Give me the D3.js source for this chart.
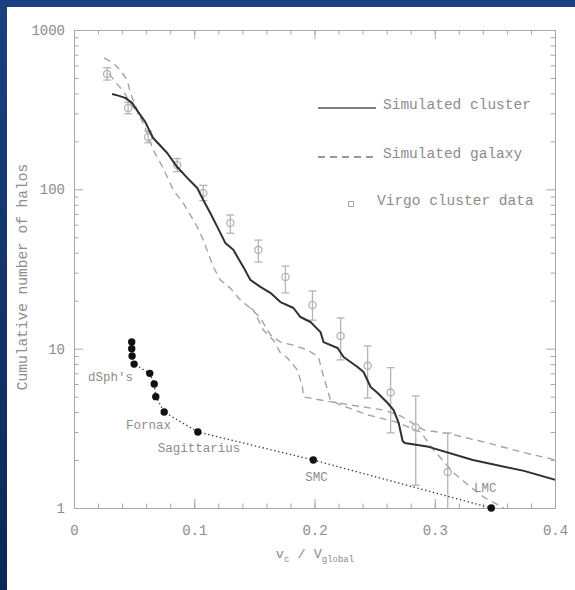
<!DOCTYPE html>
<html lang="en">
<head>
    <meta charset="UTF-8">
    <title>Cumulative number of halos</title>
    <script src="https://d3js.org/d3.v7.min.js"></script>
    <style>
        html, body { margin: 0; padding: 0; background: #123270; }
        text { font-family: "Liberation Mono", "DejaVu Sans Mono", monospace; fill: #8c8c8c; }
    </style>
</head>
<body>
    <svg id="chart"></svg>

    <script>
        // v_c / V_global against cumulative count
        const cluster = [
            [0.0317, 397], [0.0375, 386], [0.0425, 375], [0.0483, 349], [0.0533, 306],
            [0.0592, 265], [0.0633, 229], [0.0658, 210], [0.0775, 169], [0.0858, 138],
            [0.0942, 118], [0.1025, 102], [0.1075, 85.8], [0.1133, 71.1], [0.1192, 58.1],
            [0.1258, 46.1], [0.1325, 41.7], [0.1408, 32.6], [0.1467, 27.0], [0.155, 24.4],
            [0.1633, 22.4], [0.1717, 19.6], [0.1825, 18.0], [0.1883, 15.8], [0.1967, 14.7],
            [0.205, 12.7], [0.2075, 11.0], [0.2192, 10.1], [0.2242, 8.87], [0.2358, 7.67],
            [0.2408, 7.14], [0.2467, 5.75], [0.2525, 5.27], [0.2608, 4.56], [0.2658, 4.12],
            [0.27, 3.42], [0.2733, 2.63], [0.275, 2.56], [0.295, 2.42], [0.3317, 2.0],
            [0.3742, 1.71], [0.4008, 1.5]
        ];

        const galaxyA = [
            [0.025, 668], [0.0325, 621], [0.0383, 562], [0.0442, 486], [0.0467, 408],
            [0.0492, 364], [0.0533, 306], [0.0592, 243], [0.0658, 177], [0.0717, 147],
            [0.0775, 120], [0.0825, 99], [0.0908, 82.2], [0.0967, 69.1], [0.1025, 58.1],
            [0.1075, 48.1], [0.1158, 32.6], [0.1217, 27.0], [0.13, 24.0], [0.1383, 20.2],
            [0.1467, 18.0], [0.155, 15.6], [0.1633, 12.2], [0.1717, 11.0], [0.1825, 10.5],
            [0.1942, 9.82], [0.2033, 8.87], [0.2067, 7.04], [0.2108, 5.51], [0.2133, 4.76],
            [0.2217, 4.43], [0.2442, 3.84], [0.2675, 3.47], [0.2883, 3.0], [0.2992, 2.31],
            [0.3158, 1.66], [0.33, 1.35], [0.3408, 1.17], [0.3575, 1.0]
        ];

        // second galaxy run; shares the middle stretch with galaxyA (null = gap)
        const galaxyB = [
            [0.0292, 530], [0.0358, 459], [0.0408, 415], [0.0467, 349], [0.0533, 297],
            [0.1, null],
            [0.1467, 18.0], [0.1492, 17.5], [0.1575, 13.1], [0.1658, 11.3], [0.1717, 9.4],
            [0.1775, 8.74], [0.1858, 7.35], [0.19, 5.75], [0.1908, 4.98], [0.205, 4.76],
            [0.23, 4.43], [0.2575, 4.12], [0.2717, 3.78], [0.2908, 3.09], [0.3133, 2.91],
            [0.3442, 2.56], [0.3717, 2.25], [0.4008, 2.0]
        ];

        // Virgo: v, N, low, high
        const virgo = [
            [0.0275, 530, 485, 580], [0.045, 324, 298, 352], [0.0617, 213, 196, 232],
            [0.0858, 142, 129, 156], [0.1075, 95, 85, 106], [0.13, 61.5, 53, 69],
            [0.1533, 41.7, 35, 48], [0.1758, 28.2, 22.4, 33], [0.1983, 18.8, 15.1, 23],
            [0.2217, 12.0, 8.5, 15.6], [0.2442, 7.8, 4.9, 10.4], [0.2633, 5.3, 2.96, 7.6],
            [0.2842, 3.2, 1.39, 5.05], [0.3108, 1.68, 1.0, 2.96]
        ];

        // Milky Way satellites
        const satellites = [
            [0.048, 11], [0.048, 10], [0.0483, 9], [0.05, 8], [0.063, 7], [0.0667, 6],
            [0.068, 5], [0.075, 4], [0.103, 3], [0.199, 2], [0.347, 1]
        ];
        const satelliteNames = [
            {name: "dSph's", v: 0.0303, n: 6.64},
            {name: "Fornax", v: 0.062, n: 3.32},
            {name: "Sagittarius", v: 0.104, n: 2.38},
            {name: "SMC", v: 0.2017, n: 1.57},
            {name: "LMC", v: 0.342, n: 1.335}
        ];

        const xTicks = [0, 0.1, 0.2, 0.3, 0.4];
        const xMinor = d3.range(0, 0.4001, 0.02);
        const yTicks = [1, 10, 100, 1000];
        const yMinor = [2, 3, 4, 5, 6, 7, 8, 9].flatMap(m => [m, m * 10, m * 100]);
        const legendLabels = ["Simulated cluster", "Simulated galaxy", "Virgo cluster data"];

        const width = 575;
        const height = 590;
        const plotL = 74, plotR = 555, plotT = 30, plotB = 508;

        const svg = d3.select("#chart")
            .attr("width", width)
            .attr("height", height)
            .attr("viewBox", [0, 0, width, height])
            .style("display", "block");

        const defs = svg.append("defs");
        const grad = defs.append("linearGradient")
            .attr("id", "bg").attr("x1", 0).attr("y1", 0).attr("x2", 0).attr("y2", 1);
        grad.append("stop").attr("offset", 0).attr("stop-color", "#1b3f80");
        grad.append("stop").attr("offset", 1).attr("stop-color", "#0d2755");

        defs.append("clipPath").attr("id", "plot")
            .append("rect").attr("x", plotL).attr("y", plotT)
            .attr("width", plotR - plotL).attr("height", plotB - plotT);

        svg.append("rect").attr("width", width).attr("height", height).attr("fill", "url(#bg)");
        svg.append("rect").attr("x", 7).attr("y", 7)
            .attr("width", width - 7).attr("height", height - 7).attr("fill", "#fff");

        const x = d3.scaleLinear().domain([0, 0.4]).range([plotL, plotR]);
        const y = d3.scaleLog().domain([1, 1000]).range([plotB, plotT]);

        // axes: ticks point inward on all four sides
        const axisColor = "#a8a8a8";
        function styleAxis(g) {
            g.select(".domain").attr("stroke", axisColor);
            g.selectAll(".tick line").attr("stroke", axisColor);
            g.selectAll(".tick text")
                .attr("font-family", "Liberation Mono, monospace")
                .attr("font-size", 14)
                .attr("fill", "#999");
        }

        svg.append("g").attr("transform", `translate(0,${plotB})`)
            .call(d3.axisBottom(x).tickValues(xMinor).tickSize(-4.5).tickFormat(""))
            .call(styleAxis);
        svg.append("g").attr("transform", `translate(0,${plotB})`)
            .call(d3.axisBottom(x).tickValues(xTicks).tickSize(-9).tickPadding(17)
                .tickFormat(d => d === 0 ? "0" : d3.format(".1f")(d)))
            .call(styleAxis);
        svg.append("g").attr("transform", `translate(0,${plotT})`)
            .call(d3.axisTop(x).tickValues(xMinor).tickSize(-4.5).tickFormat(""))
            .call(styleAxis);
        svg.append("g").attr("transform", `translate(0,${plotT})`)
            .call(d3.axisTop(x).tickValues(xTicks).tickSize(-9).tickFormat(""))
            .call(styleAxis);

        svg.append("g").attr("transform", `translate(${plotL},0)`)
            .call(d3.axisLeft(y).tickValues(yMinor).tickSize(-4.5).tickFormat(""))
            .call(styleAxis);
        svg.append("g").attr("transform", `translate(${plotL},0)`)
            .call(d3.axisLeft(y).tickValues(yTicks).tickSize(-9).tickPadding(9)
                .tickFormat(d3.format("d")))
            .call(styleAxis);
        svg.append("g").attr("transform", `translate(${plotR},0)`)
            .call(d3.axisRight(y).tickValues(yMinor).tickSize(-4.5).tickFormat(""))
            .call(styleAxis);
        svg.append("g").attr("transform", `translate(${plotR},0)`)
            .call(d3.axisRight(y).tickValues(yTicks).tickSize(-9).tickFormat(""))
            .call(styleAxis);

        // axis titles
        svg.append("text")
            .attr("transform", `translate(27,${(plotT + plotB) / 2 + 8}) rotate(-90)`)
            .attr("text-anchor", "middle")
            .attr("font-size", 14.5)
            .text("Cumulative number of halos");

        const xlab = svg.append("text")
            .attr("x", 315).attr("y", 558)
            .attr("text-anchor", "middle")
            .attr("font-size", 13.5);
        xlab.append("tspan").text("v");
        xlab.append("tspan").attr("font-size", 9).attr("dy", 4).text("c");
        xlab.append("tspan").attr("dy", -4).text(" / V");
        xlab.append("tspan").attr("font-size", 9).attr("dy", 4).text("global");

        const plot = svg.append("g").attr("clip-path", "url(#plot)");

        const line = d3.line()
            .defined(d => d[1] != null)
            .x(d => x(d[0]))
            .y(d => y(d[1]));

        // simulated galaxy (two runs)
        [galaxyA, galaxyB].forEach(series => {
            plot.append("path")
                .datum(series)
                .attr("fill", "none")
                .attr("stroke", "#a4a4a4")
                .attr("stroke-width", 1.4)
                .attr("stroke-dasharray", "7,5")
                .attr("d", line);
        });

        // Virgo error bars
        const vg = plot.append("g").attr("stroke", "#b4b4b4").attr("fill", "none").attr("stroke-width", 1.3);
        vg.selectAll("line.bar").data(virgo).join("line")
            .attr("class", "bar")
            .attr("x1", d => x(d[0])).attr("x2", d => x(d[0]))
            .attr("y1", d => y(d[2])).attr("y2", d => y(d[3]));
        vg.selectAll("line.cap-hi").data(virgo).join("line")
            .attr("class", "cap-hi")
            .attr("x1", d => x(d[0]) - 4).attr("x2", d => x(d[0]) + 4)
            .attr("y1", d => y(d[3])).attr("y2", d => y(d[3]));
        vg.selectAll("line.cap-lo").data(virgo.filter(d => d[2] > 1)).join("line")
            .attr("class", "cap-lo")
            .attr("x1", d => x(d[0]) - 4).attr("x2", d => x(d[0]) + 4)
            .attr("y1", d => y(d[2])).attr("y2", d => y(d[2]));
        vg.selectAll("circle").data(virgo).join("circle")
            .attr("cx", d => x(d[0])).attr("cy", d => y(d[1])).attr("r", 3.6);

        // simulated cluster
        plot.append("path")
            .datum(cluster)
            .attr("fill", "none")
            .attr("stroke", "#303030")
            .attr("stroke-width", 2)
            .attr("stroke-linejoin", "round")
            .attr("d", line);

        // satellites
        plot.append("path")
            .datum(satellites)
            .attr("fill", "none")
            .attr("stroke", "#444")
            .attr("stroke-width", 1.4)
            .attr("stroke-dasharray", "1.4,2.6")
            .attr("d", line);
        svg.append("g").selectAll("circle").data(satellites).join("circle")
            .attr("cx", d => x(d[0])).attr("cy", d => y(d[1]))
            .attr("r", 3.7).attr("fill", "#111");

        svg.append("g").selectAll("text").data(satelliteNames).join("text")
            .attr("x", d => x(d.v)).attr("y", d => y(d.n))
            .attr("text-anchor", "middle")
            .attr("dy", "0.35em")
            .attr("font-size", 12.5)
            .text(d => d.name);

        // legend
        const legend = svg.append("g");
        legend.append("line").attr("x1", 318).attr("x2", 376).attr("y1", 108).attr("y2", 108)
            .attr("stroke", "#555").attr("stroke-width", 1.6);
        legend.append("line").attr("x1", 318).attr("x2", 376).attr("y1", 157).attr("y2", 157)
            .attr("stroke", "#777").attr("stroke-width", 1.4).attr("stroke-dasharray", "7,5");
        legend.append("rect").attr("x", 348.5).attr("y", 201.5).attr("width", 5).attr("height", 5)
            .attr("fill", "none").attr("stroke", "#aaa");
        legend.selectAll("text").data(legendLabels).join("text")
            .attr("x", (d, i) => i === 2 ? 377 : 383)
            .attr("y", (d, i) => [104, 153, 200][i])
            .attr("dy", "0.35em")
            .attr("font-size", 14.5)
            .text(d => d);
    </script>
</body>
</html>
